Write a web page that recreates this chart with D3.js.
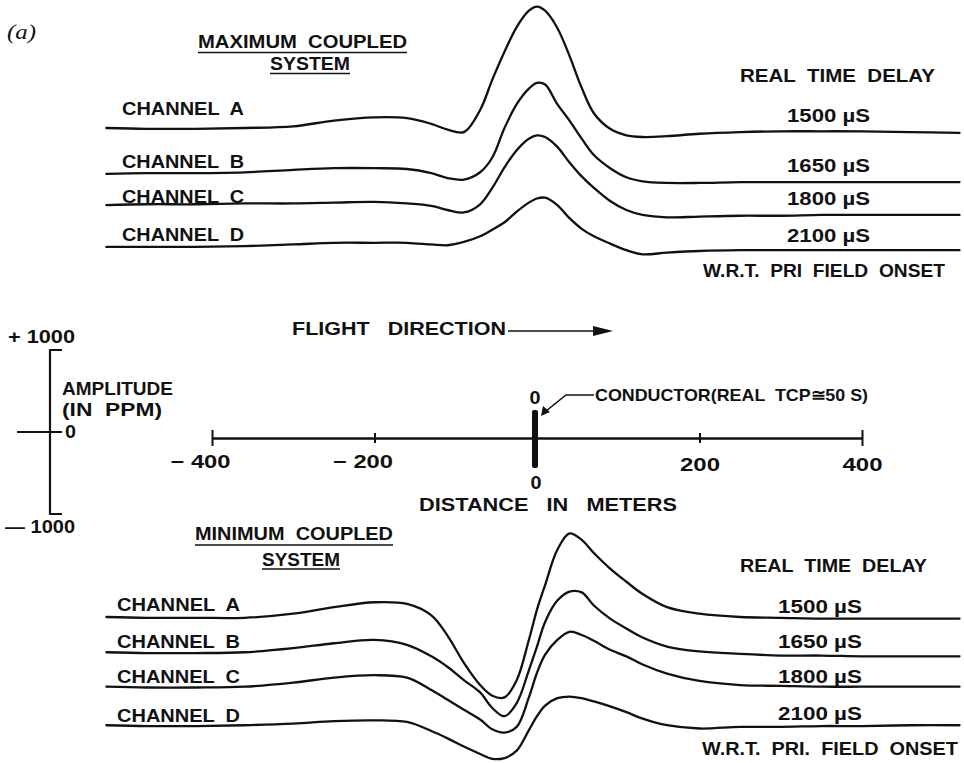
<!DOCTYPE html>
<html>
<head>
<meta charset="utf-8">
<script src="https://cdn.jsdelivr.net/npm/d3@7"></script>
<style>
  body { margin: 0; background: #ffffff; }
  svg { display: block; }
  .lbl { font-family: "Liberation Sans", Arial, sans-serif; font-weight: bold; fill: #111; white-space: pre; }
</style>
</head>
<body>
<svg id="chart" width="964" height="763"></svg>
<script>
// ---------------- DATA ----------------
// Distance along the flight line (metres) at which each trace is sampled
const distances = [-530, -480, -420, -360, -300, -250, -200, -160, -130, -110, -90, -70, -55, -40, -25, -10,
                   0, 10, 25, 40, 55, 70, 90, 110, 130, 160, 200, 250, 300, 350, 400, 460, 520];

const channelNames = ["CHANNEL  A", "CHANNEL  B", "CHANNEL  C", "CHANNEL  D"];
const delayLabels = ["1500 µS", "1650 µS", "1800 µS", "2100 µS"];

// Maximum coupled system – amplitude (ppm) relative to each trace's own zero line
const maxA = [0, -10, -10, 0, 20, 90, 130, 120, 50, -20, -50, 220, 590, 930, 1230, 1430,
              1480, 1430, 1220, 880, 490, 180, -10, -90, -110, -100, -70, -50, -40, -40, -40, -50, -60];
const maxB = [0, 10, 10, 20, 50, 70, 70, 60, 10, -50, -70, 20, 200, 560, 850, 1040,
              1110, 1090, 850, 650, 430, 230, 70, -40, -90, -110, -110, -100, -100, -100, -100, -100, -100];
const maxC = [0, 10, 10, 20, 20, 30, 40, 20, -10, -60, -90, 10, 210, 460, 670, 810,
              850, 830, 710, 520, 350, 210, 50, -60, -120, -150, -140, -130, -130, -120, -120, -120, -120];
const maxD = [0, 0, 0, 10, 30, 50, 50, 50, 30, 20, 60, 130, 210, 300, 430, 540,
              590, 600, 510, 350, 220, 130, 40, -40, -90, -70, -50, -40, -40, -40, -40, -40, -40];

// Minimum coupled system – amplitude (ppm)
const minA = [0, -10, -10, -10, 40, 120, 180, 160, 20, -230, -560, -830, -960, -980, -770, -280,
              90, 390, 820, 1020, 940, 780, 590, 430, 280, 120, 40, 0, -10, -20, -20, -20, -20];
const minB = [0, -10, -10, 0, 50, 110, 150, 90, -50, -180, -340, -490, -680, -780, -620, -220,
              70, 370, 630, 740, 730, 570, 410, 290, 180, 70, 10, -20, -40, -40, -50, -50, -50];
const minC = [0, -10, -10, 0, 50, 110, 140, 110, -40, -160, -280, -400, -520, -560, -490, -130,
              170, 390, 570, 670, 630, 560, 450, 370, 270, 160, 70, 20, 10, 0, 0, 0, 0];
const minD = [0, -10, -10, 0, 20, 50, 60, 40, -70, -160, -260, -350, -410, -400, -310, -60,
              110, 240, 330, 350, 330, 290, 230, 160, 80, 0, -40, -20, -20, -10, -10, 0, 0];

// Display offset of each trace (ppm) – traces are stacked
const maxOffsets = [0, -560, -940, -1450];
const minOffsets = [0, -430, -850, -1320];

const distanceTicks = [-400, -200, 200, 400];
const amplitudeTicks = [1000, 0, -1000];

// ---------------- DRAWING ----------------
const svg = d3.select("#chart");
const ink = "#111";
const FS = 18.5;

const x = d3.scaleLinear().domain([-400, 400]).range([212, 862]);
const yTop = d3.scaleLinear().domain([0, 1000]).range([128, 46]);
const yBot = d3.scaleLinear().domain([0, 1000]).range([617, 535]);
const yAmp = d3.scaleLinear().domain([-1000, 1000]).range([514, 350]);

function txt(s, px, py, w, size, opts = {}) {
  const t = svg.append("text").attr("class", "lbl")
    .attr("x", px).attr("y", py)
    .attr("font-size", size)
    .attr("xml:space", "preserve")
    .text(s);
  if (w) t.attr("textLength", w).attr("lengthAdjust", "spacingAndGlyphs");
  if (opts.anchor) t.attr("text-anchor", opts.anchor);
  if (opts.family) t.style("font-family", opts.family);
  if (opts.weight) t.style("font-weight", opts.weight);
  if (opts.style) t.style("font-style", opts.style);
  return t;
}
function hline(x1, x2, yy, w = 2) {
  svg.append("line").attr("x1", x1).attr("x2", x2).attr("y1", yy).attr("y2", yy)
    .attr("stroke", ink).attr("stroke-width", w);
}

function drawPanel(series, offsets, yScale) {
  const line = d3.line()
    .x(d => x(d[0]))
    .y(d => yScale(d[1]))
    .curve(d3.curveCatmullRom.alpha(0.5));
  series.forEach((vals, i) => {
    const pts = distances.map((d, j) => [d, vals[j] + offsets[i]]);
    svg.append("path").datum(pts)
      .attr("d", line)
      .attr("fill", "none")
      .attr("stroke", ink)
      .attr("stroke-width", 2.3)
      .attr("stroke-linejoin", "round")
      .attr("stroke-linecap", "round");
  });
}

drawPanel([maxA, maxB, maxC, maxD], maxOffsets, yTop);
drawPanel([minA, minB, minC, minD], minOffsets, yBot);

// panel label
txt("(a)", 7, 39, 29, 20, { family: "'Liberation Serif', 'Times New Roman', serif", weight: "normal", style: "italic" });

// ----- top panel texts
txt("MAXIMUM  COUPLED", 198, 48, 209, FS);
hline(198, 407, 52.5, 1.6);
txt("SYSTEM", 270, 70, 80, FS);
hline(270, 350, 73.5, 1.6);

const topChanY = [115, 168, 203, 241];
channelNames.forEach((c, i) => txt(c, 122, topChanY[i], 122, FS));
txt("REAL  TIME  DELAY", 740, 82, 195, FS);
const topDelayY = [122, 172, 205, 242];
delayLabels.forEach((c, i) => txt(c, 787, topDelayY[i], 83, FS));
txt("W.R.T.  PRI  FIELD  ONSET", 703, 277, 242, FS);

// ----- bottom panel texts
txt("MINIMUM  COUPLED", 195, 540, 198, FS);
hline(195, 393, 545, 1.6);
txt("SYSTEM", 262, 566, 78, FS);
hline(262, 340, 569, 1.6);
const botChanY = [611, 648, 683, 722];
channelNames.forEach((c, i) => txt(c, 117, botChanY[i], 123, FS));
txt("REAL  TIME  DELAY", 740, 572, 187, FS);
const botDelayY = [613, 648, 683, 720];
delayLabels.forEach((c, i) => txt(c, 778, botDelayY[i], 84, FS));
txt("W.R.T.  PRI.  FIELD  ONSET", 702, 755, 256, FS);

// ----- amplitude scale (left)
const bx = 50;
svg.append("path")
  .attr("d", `M${bx + 12},${yAmp(1000)} H${bx} V${yAmp(-1000)} H${bx + 12}`)
  .attr("fill", "none").attr("stroke", ink).attr("stroke-width", 2.2);
hline(17, bx + 12, yAmp(0), 2.2);
txt("+ 1000", 8, yAmp(1000) - 7, 67, FS);
txt("0", 65, yAmp(0) + 6, 11, FS);
txt("\u2014 1000", 5, yAmp(-1000) + 19, 70, FS);
txt("AMPLITUDE", 62, 395, 111, FS);
txt("(IN  PPM)", 62, 416, 100, FS);

// ----- flight direction arrow
txt("FLIGHT   DIRECTION", 292, 335, 214, FS);
svg.append("line").attr("x1", 508).attr("x2", 596).attr("y1", 331).attr("y2", 331)
  .attr("stroke", ink).attr("stroke-width", 1.6);
svg.append("path").attr("d", "M593,326 L613,331 L593,336 Z").attr("fill", ink);

// ----- distance axis
const axisY = 438;
const tickLabelWidth = d => (d < 0 ? 60 : 40);
const axis = d3.axisBottom(x)
  .tickValues(distanceTicks)
  .tickSizeOuter(0)
  .tickSizeInner(5)
  .tickPadding(12)
  .tickFormat(d => d < 0 ? "\u2212 " + Math.abs(d) : String(d));
const gAxis = svg.append("g").attr("transform", `translate(0,${axisY})`).call(axis);
gAxis.select(".domain").attr("stroke", ink).attr("stroke-width", 2.4);
gAxis.selectAll(".tick line")
  .attr("stroke", ink).attr("stroke-width", 2)
  .attr("y1", d => Math.abs(d) === 400 ? -8 : -5)
  .attr("y2", d => Math.abs(d) === 400 ? 8 : 5);
gAxis.selectAll(".tick text")
  .attr("class", "lbl")
  .attr("font-size", FS)
  .attr("fill", ink)
  .attr("xml:space", "preserve")
  .style("font-family", "'Liberation Sans', Arial, sans-serif")
  .style("font-weight", "bold")
  .attr("text-anchor", "start")
  .attr("x", d => d < 0 ? -42 : -20)
  .attr("textLength", tickLabelWidth)
  .attr("lengthAdjust", "spacingAndGlyphs")
  .attr("dy", d => d < 0 ? "0.7em" : "0.85em");

// conductor at 0
svg.append("rect").attr("x", x(0) - 5).attr("y", 410).attr("width", 6).attr("height", 58)
  .attr("fill", ink).attr("rx", 2);
txt("0", x(0) - 2, 404, 11, FS, { anchor: "middle" });
txt("0", x(0) - 1, 489, 11, FS, { anchor: "middle" });
svg.append("path").attr("d", "M594,395 H566 L546,411")
  .attr("fill", "none").attr("stroke", ink).attr("stroke-width", 1.6);
svg.append("path").attr("d", "M541,416 L543,406 L550,412 Z").attr("fill", ink);
txt("CONDUCTOR(REAL  TCP\u224550 S)", 595, 401, 273, 17);
txt("DISTANCE   IN   METERS", 419, 511, 258, FS);
</script>
</body>
</html>
